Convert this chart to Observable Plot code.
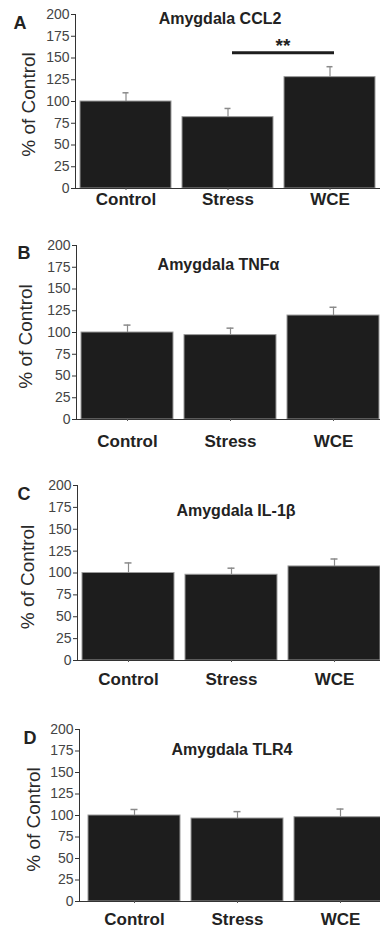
<!DOCTYPE html>
<html>
<head>
<meta charset="utf-8">
<script src="https://cdn.jsdelivr.net/npm/d3@7"></script>
<script src="https://cdn.jsdelivr.net/npm/@observablehq/plot@0.6"></script>
<style>
  html, body { margin: 0; padding: 0; background: #fff; width: 380px; height: 928px; overflow: hidden; }
  #wrap { position: relative; width: 380px; height: 928px; overflow: hidden; font-family: "Liberation Sans", Arial, sans-serif; }
  .panel { position: absolute; left: 0; width: 392px; }
  .panel svg { overflow: visible; max-width: none !important; }
</style>
</head>
<body>
<div id="wrap"></div>
<script>
const categories = ["Control", "Stress", "WCE"];
const yTicks = [0, 25, 50, 75, 100, 125, 150, 175, 200];

const ccl2 = [100, 82, 128];
const ccl2Err = [10, 10, 12];
const tnf = [100, 97, 119.5];
const tnfErr = [8.5, 8, 9.5];
const il1b = [100, 98, 107.5];
const il1bErr = [11.5, 7.5, 8.5];
const tlr4 = [100, 96.5, 98];
const tlr4Err = [7, 8, 9.5];

const titles = ["Amygdala CCL2", "Amygdala TNFα", "Amygdala IL-1β", "Amygdala TLR4"];
const letters = ["A", "B", "C", "D"];
const yLabel = "% of Control";
const significance = [{from: "Stress", to: "WCE", y: 156, label: "**"}];

const series = [ccl2, tnf, il1b, tlr4];
const errors = [ccl2Err, tnfErr, il1bErr, tlr4Err];

// layout per panel
const layout = [
  {top: 0,   height: 218, mb: 30, ml: 75, range: [73, 381],     xpad: 2,  tdx: -14, tdy: -2, ldx: -62, ldy: 2, ydx: -47, ydy: 3},
  {top: 231, height: 218, mb: 30, ml: 76, range: [75, 384],     xpad: 13, tdx: -16, tdy: 13, ldx: -59, ldy: 1, ydx: -51, ydy: 4},
  {top: 471, height: 219, mb: 30, ml: 77, range: [76, 385],     xpad: 10, tdx: 1,   tdy: 19, ldx: -60, ldy: 2, ydx: -50, ydy: 4},
  {top: 715, height: 213, mb: 27, ml: 79, range: [82, 391],     xpad: 9,  tdx: -4,  tdy: 14, ldx: -56, ldy: 2, ydx: -46, ydy: 4}
];

const wrap = document.getElementById("wrap");

series.forEach((vals, i) => {
  const L = layout[i];
  const data = categories.map((c, j) => ({cat: c, value: vals[j], top: vals[j] + errors[i][j]}));
  const width = 392;
  const marks = [
    Plot.barY(data, {x: "cat", y: "value", fill: "#1d1d1d", stroke: "#9a9a9a", strokeWidth: 1}),
    Plot.ruleX(data, {x: "cat", y1: "value", y2: "top", stroke: "#8a8a8a", strokeWidth: 1.2}),
    Plot.tickY(data, {x: "cat", y: "top", stroke: "#8a8a8a", strokeWidth: 1.5, insetLeft: 42.5, insetRight: 42.5}),
    Plot.frame({anchor: "left", stroke: "#333", strokeWidth: 1}),
    Plot.ruleY([0], {stroke: "#333", strokeWidth: 1}),
    Plot.axisY({ticks: yTicks, tickSize: 4, tickPadding: 2, fontSize: 14, fill: "#444", stroke: "#333", label: null}),
    Plot.axisX({tickSize: 2, tickPadding: L.xpad, fontSize: 17, fontWeight: "bold", fill: "#222", stroke: "#555", label: null}),
    Plot.text([yLabel], {frameAnchor: "left", rotate: -90, dx: L.ydx, dy: L.ydy, fontSize: 19, fill: "#2a2a2a",
      textAnchor: "middle", lineAnchor: "middle"}),
    Plot.text([titles[i]], {frameAnchor: "top", dx: L.tdx, dy: L.tdy,
      fontSize: 16, fontWeight: "bold", fill: "#222", lineAnchor: "top"}),
    Plot.text([letters[i]], {frameAnchor: "top-left", dx: L.ldx, dy: L.ldy, textAnchor: "start", lineAnchor: "top",
      fontSize: 18, fontWeight: "bold", fill: "#222"})
  ];
  if (i === 0) {
    marks.push(Plot.link(significance, {x1: "from", x2: "to", y1: "y", y2: "y", stroke: "#1d1d1d", strokeWidth: 3, dx: 4}));
    marks.push(Plot.text(significance, {x: "to", y: "y", text: "label", dx: -47, dy: -1, lineAnchor: "bottom",
      fontSize: 19, fontWeight: "bold", fill: "#222"}));
  }
  const chart = Plot.plot({
    width, height: L.height,
    marginLeft: L.ml, marginRight: 0, marginTop: 14, marginBottom: L.mb,
    style: {fontFamily: "'Liberation Sans', Arial, sans-serif", background: "transparent", fontSize: "14px", maxWidth: "none"},
    x: {domain: categories, range: L.range, paddingInner: 0.11, paddingOuter: 0.055, axis: null},
    y: {domain: [0, 200], axis: null},
    marks
  });
  const div = document.createElement("div");
  div.className = "panel";
  div.style.top = L.top + "px";
  div.appendChild(chart);
  wrap.appendChild(div);
});
</script>
</body>
</html>
